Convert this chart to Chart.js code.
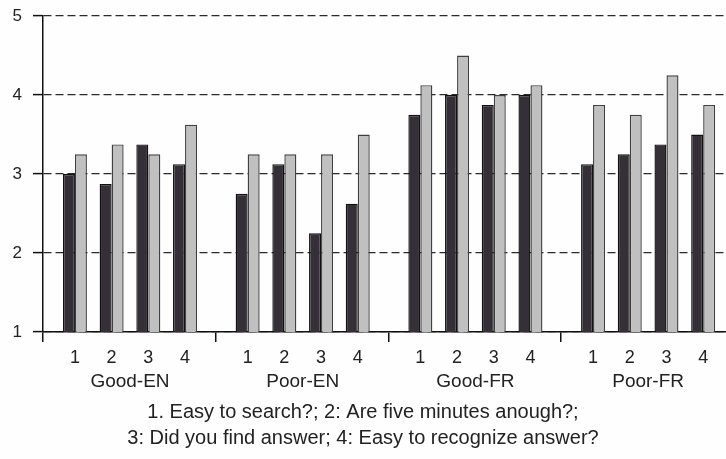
<!DOCTYPE html>
<html>
<head>
<meta charset="utf-8">
<script src="https://cdn.jsdelivr.net/npm/chart.js@4/dist/chart.umd.min.js"></script>
<style>
  html, body { margin: 0; padding: 0; background: #fefefe; }
  #wrap { width: 726px; height: 459px; position: relative; }
</style>
</head>
<body>
<div id="wrap"><canvas id="c"></canvas></div>
<script>
// ---- data ----
const groups = ['Good-EN', 'Poor-EN', 'Good-FR', 'Poor-FR'];
const questions = ['1', '2', '3', '4'];
const darkGoodEN  = [3.0, 2.875, 3.375, 3.125];
const lightGoodEN = [3.25, 3.375, 3.25, 3.625];
const darkPoorEN  = [2.75, 3.125, 2.25, 2.625];
const lightPoorEN = [3.25, 3.25, 3.25, 3.5];
const darkGoodFR  = [3.75, 4.0, 3.875, 4.0];
const lightGoodFR = [4.125, 4.5, 4.0, 4.125];
const darkPoorFR  = [3.125, 3.25, 3.375, 3.5];
const lightPoorFR = [3.875, 3.75, 4.25, 3.875];
const yTickValues = [1, 2, 3, 4, 5];
const captionLines = [
  '1. Easy to search?; 2: Are five minutes anough?;',
  '3: Did you find answer; 4: Easy to recognize answer?'
];

// ---- layout constants (scale units, not mark coordinates) ----
const GROUP_SPAN = 4.706;   // distance between groups, in question slots
const X_MIN = -0.87;
const X_MAX = 17.74;

const darkSeries = [darkGoodEN, darkPoorEN, darkGoodFR, darkPoorFR];
const lightSeries = [lightGoodEN, lightPoorEN, lightGoodFR, lightPoorFR];

function slot(g, i) { return g * GROUP_SPAN + i; }
function toPoints(series) {
  const pts = [];
  series.forEach((vals, g) => vals.forEach((v, i) => pts.push({ x: slot(g, i), y: v })));
  return pts;
}

const pairTicks = [];
groups.forEach((_, g) => questions.forEach((q, i) => pairTicks.push({ value: slot(g, i), label: q })));
const groupCenterTicks = groups.map((name, g) => ({ value: slot(g, 1.5), label: name }));
const boundaryTicks = [0, 1, 2, 3, 4].map(k => ({ value: X_MIN + k * GROUP_SPAN }));

const FONT = "'Liberation Sans', Arial, Helvetica, sans-serif";
const INK = '#222';

new Chart(document.getElementById('c'), {
  type: 'bar',
  data: {
    datasets: [
      {
        label: 'dark',
        data: toPoints(darkSeries),
        backgroundColor: '#352f37',
        borderColor: '#111',
        borderWidth: 1.4,
        xAxisID: 'x',
        categoryPercentage: 0.654,
        barPercentage: 1.0
      },
      {
        label: 'light',
        data: toPoints(lightSeries),
        backgroundColor: '#c0c0c0',
        borderColor: '#404040',
        borderWidth: 1.4,
        xAxisID: 'x',
        categoryPercentage: 0.654,
        barPercentage: 1.0
      }
    ]
  },
  options: {
    responsive: true,
    maintainAspectRatio: false,
    animation: false,
    events: [],
    layout: { padding: { top: 16, right: 0, left: 0, bottom: 0 } },
    plugins: {
      legend: { display: false },
      tooltip: { enabled: false },
      title: {
        display: true,
        position: 'bottom',
        text: captionLines,
        color: INK,
        font: { family: FONT, size: 20, weight: 'normal', lineHeight: 1.3 },
        padding: { top: 5, bottom: 8 }
      }
    },
    scales: {
      y: {
        type: 'linear',
        min: 1,
        max: 5,
        afterBuildTicks: s => { s.ticks = yTickValues.map(v => ({ value: v })); },
        afterFit: s => { s.width = 43; s.paddingTop = 0; s.paddingBottom = 0; },
        ticks: {
          color: INK,
          font: { family: FONT, size: 17 },
          padding: 11
        },
        grid: {
          color: '#2a2a2a',
          lineWidth: 1.2,
          tickLength: 10,
          tickColor: '#111',
          tickWidth: 1.5,
          tickBorderDash: []
        },
        border: { display: true, color: '#111', width: 1.5, dash: [8, 4] }
      },
      xb: {
        type: 'linear',
        position: 'bottom',
        weight: 1,
        min: X_MIN,
        max: X_MAX,
        bounds: 'data',
        offset: false,
        afterBuildTicks: s => { s.ticks = boundaryTicks.map(t => ({ value: t.value })); },
        afterFit: s => { s.height = 12; },
        ticks: { display: false, autoSkip: false },
        grid: { offset: false, drawOnChartArea: false, drawTicks: true, tickLength: 10, color: '#111', lineWidth: 1.5 },
        border: { display: true, color: '#111', width: 1.5 }
      },
      x: {
        type: 'linear',
        position: 'bottom',
        weight: 2,
        min: X_MIN,
        max: X_MAX,
        bounds: 'data',
        offset: false,
        afterBuildTicks: s => { s.ticks = pairTicks.map(t => ({ value: t.value })); },
        afterFit: s => { s.height = 26; },
        ticks: {
          autoSkip: false,
          maxRotation: 0,
          color: INK,
          font: { family: FONT, size: 18 },
          padding: 3,
          callback: (v, idx) => pairTicks[idx] ? pairTicks[idx].label : ''
        },
        grid: { offset: false, display: false, drawTicks: false, tickLength: 0 },
        border: { display: false }
      },
      xg: {
        type: 'linear',
        position: 'bottom',
        weight: 3,
        min: X_MIN,
        max: X_MAX,
        bounds: 'data',
        offset: false,
        afterBuildTicks: s => { s.ticks = groupCenterTicks.map(t => ({ value: t.value })); },
        afterFit: s => { s.height = 24; },
        ticks: {
          autoSkip: false,
          maxRotation: 0,
          color: INK,
          font: { family: FONT, size: 19 },
          padding: 0,
          callback: (v, idx) => groupCenterTicks[idx] ? groupCenterTicks[idx].label : ''
        },
        grid: { offset: false, display: false, drawTicks: false, tickLength: 0 },
        border: { display: false }
      }
    }
  }
});
</script>
</body>
</html>
